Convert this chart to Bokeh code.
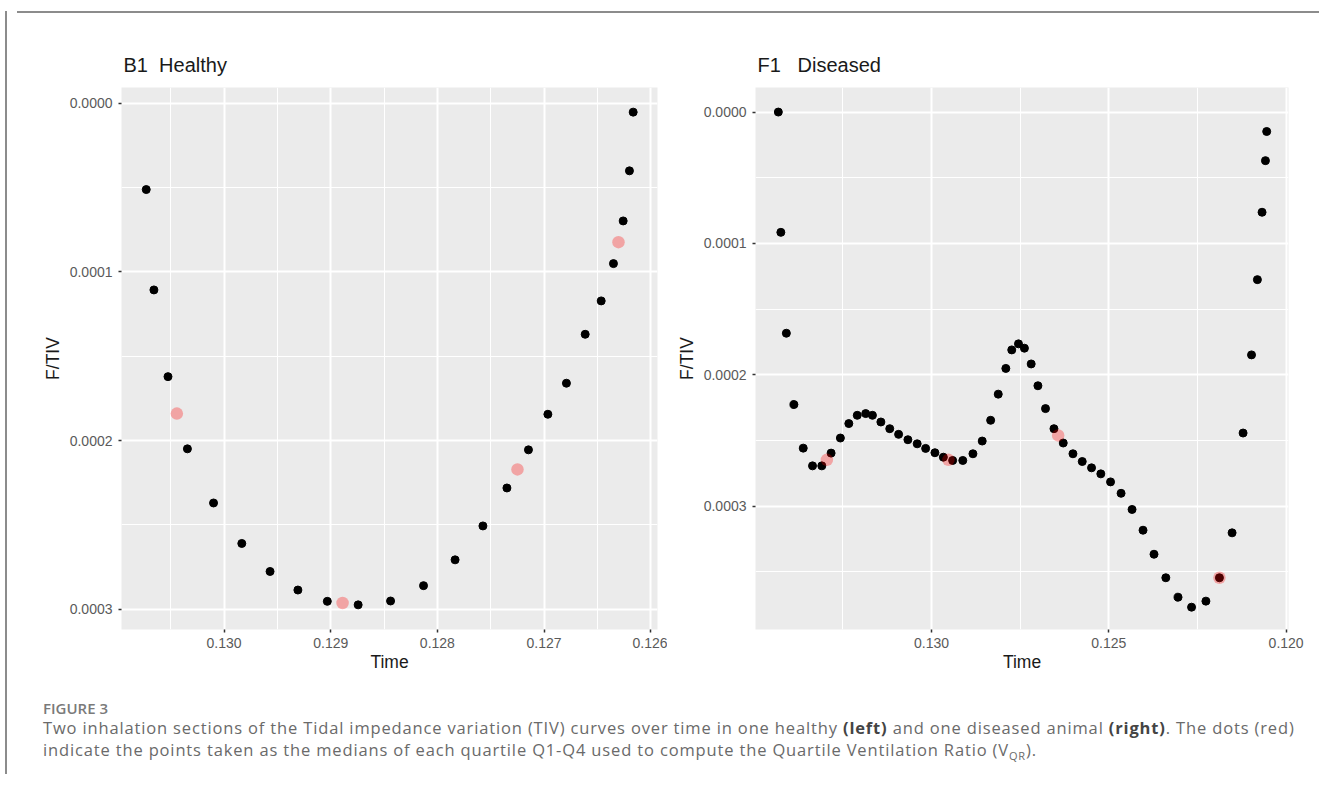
from bokeh.plotting import figure
from bokeh.models import Range1d, FixedTicker, PrintfTickFormatter, Div, Spacer
from bokeh.layouts import row, column
from bokeh.embed import file_html
from bokeh.resources import INLINE

# ---------------- data ----------------
healthy_time = [0.130730, 0.130658, 0.130526, 0.130344, 0.130099, 0.129834, 0.129569, 0.129308,
                0.129032, 0.128743, 0.128439, 0.128130, 0.127834, 0.127573, 0.127348, 0.127146,
                0.126964, 0.126790, 0.126614, 0.126464, 0.126349, 0.126258, 0.126199, 0.126164]
healthy_ftiv = [0.0000512, 0.0001107, 0.0001621, 0.0002049, 0.0002370, 0.0002610, 0.0002776, 0.0002886,
                0.0002953, 0.0002974, 0.0002951, 0.0002860, 0.0002707, 0.0002506, 0.0002281, 0.0002055,
                0.0001844, 0.0001660, 0.0001370, 0.0001172, 0.0000951, 0.0000698, 0.0000401, 0.0000053]
healthy_med_time = [0.130443, 0.128889, 0.127249, 0.126302]
healthy_med_ftiv = [0.0001840, 0.0002963, 0.0002171, 0.0000824]

diseased_time = [0.134321, 0.134250, 0.134095, 0.133881, 0.133619, 0.133357, 0.133095, 0.132833,
                 0.132571, 0.132333, 0.132095, 0.131857, 0.131667, 0.131429, 0.131179, 0.130929,
                 0.130667, 0.130405, 0.130167, 0.129905, 0.129667, 0.129405, 0.129119, 0.128833,
                 0.128571, 0.128333, 0.128119, 0.127905, 0.127738, 0.127548, 0.127381, 0.127190,
                 0.127000, 0.126786, 0.126548, 0.126286, 0.126012, 0.125750, 0.125488, 0.125226,
                 0.124952, 0.124655, 0.124345, 0.124036, 0.123726, 0.123393, 0.123048, 0.122667,
                 0.122262, 0.121881, 0.121524, 0.121214, 0.120976, 0.120810, 0.120679, 0.120583,
                 0.120548]
diseased_ftiv = [0.0000000, 0.0000916, 0.0001684, 0.0002227, 0.0002559, 0.0002694, 0.0002694, 0.0002597,
                 0.0002482, 0.0002372, 0.0002309, 0.0002296, 0.0002309, 0.0002360, 0.0002411, 0.0002454,
                 0.0002495, 0.0002526, 0.0002561, 0.0002594, 0.0002628, 0.0002653, 0.0002653, 0.0002602,
                 0.0002505, 0.0002347, 0.0002148, 0.0001952, 0.0001811, 0.0001765, 0.0001798, 0.0001918,
                 0.0002084, 0.0002258, 0.0002411, 0.0002520, 0.0002602, 0.0002661, 0.0002709, 0.0002755,
                 0.0002816, 0.0002903, 0.0003026, 0.0003184, 0.0003367, 0.0003546, 0.0003694, 0.0003770,
                 0.0003724, 0.0003546, 0.0003204, 0.0002444, 0.0001849, 0.0001276, 0.0000763, 0.0000370,
                 0.0000148]
diseased_med_time = [0.132952, 0.129524, 0.126429, 0.121881]
diseased_med_ftiv = [0.0002648, 0.0002648, 0.0002462, 0.0003546]

healthy_xticks = [0.130, 0.129, 0.128, 0.127, 0.126]
healthy_xminor = [0.1305, 0.1295, 0.1285, 0.1275, 0.1265]
diseased_xticks = [0.130, 0.125, 0.120]
diseased_xminor = [0.1325, 0.1275, 0.1225]
yticks = [0.0, 0.0001, 0.0002, 0.0003]
yminor = [0.00005, 0.00015, 0.00025, 0.00035]

# non-breaking spaces keep the wide gaps of the original titles in SVG text
titles = ["B1\u00a0 Healthy", "F1\u00a0\u00a0 Diseased"]

FONT = "Liberation Sans"


def panel(title, xs, ys, mx, my, xr, yr, xt, xm, width, bl, br):
    p = figure(width=width, height=664, x_range=Range1d(*xr), y_range=Range1d(*yr),
               output_backend="svg", toolbar_location=None, title=title,
               min_border_left=bl, min_border_right=br, min_border_top=69, min_border_bottom=53)
    p.background_fill_color = "#EBEBEB"
    p.border_fill_color = "white"
    p.outline_line_color = None

    p.title.text_font = FONT
    p.title.text_font_size = "20px"
    p.title.text_font_style = "normal"
    p.title.text_color = "#1a1a1a"
    p.title.align = "left"
    p.title.offset = 2
    p.title.standoff = 24

    p.xaxis.ticker = FixedTicker(ticks=xt, minor_ticks=xm)
    p.yaxis.ticker = FixedTicker(ticks=yticks, minor_ticks=yminor)
    p.xaxis.formatter = PrintfTickFormatter(format="%.3f")
    p.yaxis.formatter = PrintfTickFormatter(format="%.4f")

    for ax in (p.xaxis, p.yaxis):
        ax.axis_line_color = None
        ax.major_tick_line_color = "#333333"
        ax.major_tick_line_width = 1.5
        ax.major_tick_out = 3
        ax.major_tick_in = 0
        ax.minor_tick_line_color = None
        ax.major_label_text_font = FONT
        ax.major_label_text_font_size = "14px"
        ax.major_label_text_color = "#5a5a5a"
        ax.axis_label_text_font = FONT
        ax.axis_label_text_font_size = "17.5px"
        ax.axis_label_text_font_style = "normal"
        ax.axis_label_text_color = "#1a1a1a"
    p.xaxis.axis_label = "Time"
    p.yaxis.axis_label = "F/TIV"
    p.xaxis.major_label_standoff = 4
    p.yaxis.major_label_standoff = 5
    p.xaxis.axis_label_standoff = 1
    p.yaxis.axis_label_standoff = 4

    for g in (p.xgrid, p.ygrid):
        g.grid_line_color = "white"
        g.grid_line_width = 2
        g.minor_grid_line_color = "white"
        g.minor_grid_line_width = 1

    p.scatter(xs, ys, size=8, color="black")
    p.scatter(mx, my, size=12.5, fill_color="red", line_color=None, fill_alpha=0.3)
    return p


p1 = panel(titles[0], healthy_time, healthy_ftiv, healthy_med_time, healthy_med_ftiv,
           (0.130962, 0.125936), (0.000312, -0.0000093), healthy_xticks, healthy_xminor,
           655, 109, 10)
p2 = panel(titles[1], diseased_time, diseased_ftiv, diseased_med_time, diseased_med_ftiv,
           (0.134965, 0.119933), (0.000394, -0.0000187), diseased_xticks, diseased_xminor,
           647, 88, 26)

caption_html = (
    '<div style="font-family:\'Open Sans\',sans-serif;color:#6a6a6a;padding:12px 0 0 26px;white-space:nowrap;">'
    '<div style="font-size:15px;font-weight:600;line-height:18px;color:#7a7a7a;">FIGURE 3</div>'
    '<div style="font-size:16.5px;line-height:22px;letter-spacing:0.85px;">'
    'Two inhalation sections of the Tidal impedance variation (TIV) curves over time in one healthy '
    '<b style="color:#444">(left)</b> and one diseased animal <b style="color:#444">(right)</b>. The dots (red)<br>'
    'indicate the points taken as the medians of each quartile Q1-Q4 used to compute the Quartile '
    'Ventilation Ratio (V<sub style="font-size:11px">QR</sub>).</div></div>'
)
caption = Div(text=caption_html, width=1302, height=97)

hline = Div(text="", width=1302, height=2, styles={"background-color": "#8c8c8c"})
vline = Div(text="", width=2, height=763, styles={"background-color": "#8c8c8c"})

content = column(hline, row(p1, p2), caption)
page = column(Spacer(width=1304, height=6), row(vline, content))

open("out.html", "w").write(file_html(page, INLINE))
